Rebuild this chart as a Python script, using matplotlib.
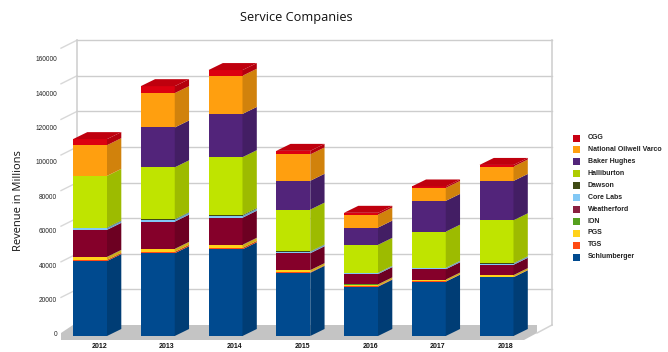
import matplotlib
matplotlib.use("Agg")
import matplotlib.pyplot as plt
from matplotlib.colors import to_rgb

# revenue in millions per company, stacked bottom to top
years = ["2012", "2013", "2014", "2015", "2016", "2017", "2018"]
schlumberger = [42100, 46500, 48700, 35500, 27700, 30500, 33000]
tgs = [700, 800, 800, 300, 300, 200, 200]
pgs = [1500, 1500, 1600, 1100, 900, 900, 900]
ion = [150, 150, 150, 100, 100, 100, 100]
weatherford = [15200, 15300, 15200, 9500, 5800, 5800, 5800]
core_labs = [1000, 1100, 1100, 800, 600, 700, 700]
dawson = [300, 300, 400, 200, 100, 100, 200]
halliburton = [29000, 29100, 32500, 23500, 15700, 20300, 24100]
baker_hughes = [0, 22400, 24300, 16200, 9700, 17300, 22100]
nov = [17250, 19300, 21450, 14800, 7300, 7300, 8100]
cgg = [3400, 3900, 3200, 2000, 1000, 800, 900]

companies = ["Schlumberger", "TGS", "PGS", "ION", "Weatherford", "Core Labs",
             "Dawson", "Halliburton", "Baker Hughes", "National Oilwell Varco", "CGG"]
series = [schlumberger, tgs, pgs, ion, weatherford, core_labs,
          dawson, halliburton, baker_hughes, nov, cgg]
colors = ["#004a8f", "#ff4a12", "#ffd21a", "#55a01e", "#85002a", "#82c8f5",
          "#3f4a14", "#bfe400", "#52247a", "#ff9f0f", "#dc0010"]
legend_colors = ["#004a8f", "#ff4a12", "#ffd21a", "#55a01e", "#8a2040", "#82c8f5",
                 "#3f4a14", "#aecb00", "#52247a", "#ff9f0f", "#c90012"]

axis_ticks = list(range(0, 180000, 20000))

W, H = 668, 352
PX_X = 67.75            # pixels between categories
PX_Y = 35.6 / 20000     # pixels per unit of revenue
X0, Y0 = 90, 336        # pixel position of first category at zero


def darker(c, f):
    return tuple(v * f for v in to_rgb(c))


fig = plt.figure(figsize=(W / 100, H / 100), dpi=100)
ax = fig.add_axes([0, 0, 1, 1])
ax.set_xlim(-X0 / PX_X, (W - X0) / PX_X)
ax.set_ylim((Y0 - H) / PX_Y, Y0 / PX_Y)
ax.axis("off")

# pixel sizes turned into data units
dx = 14.3 / PX_X
dy = 7 / PX_Y
half = 17 / PX_X


def px(x, y):
    return (x - X0) / PX_X, (Y0 - y) / PX_Y


# floor
floor = [px(61, 333), px(73, 325), px(537, 325), px(537, 333), px(524, 340), px(61, 340)]
ax.fill(*zip(*floor), color="#c4c4c4", lw=0, zorder=1)
ax.plot(*zip(px(537, 333), px(552, 325)), color="#d4d4d4", lw=1.1, zorder=1)

# walls and gridlines
grid_c = "#cdcdcd"
for t in axis_ticks[1:]:
    gy = 325 - t * PX_Y
    bx, by = px(77, gy)
    ex, _ = px(552, gy)
    ax.plot([bx, ex], [by, by], color=grid_c, lw=1.0, zorder=1)
    fx, fy = px(61, gy + 8)
    ax.plot([fx, bx], [fy, by], color="#d8d8d8", lw=1.0, zorder=1)
for wall_x in (77, 552):
    ax.plot(*zip(px(wall_x, 40), px(wall_x, 325)), color=grid_c, lw=1.1, zorder=1)

# stacked bars with a side face and a lid
for i, year in enumerate(years):
    bottom = 0
    for name, vals, c in zip(companies, series, colors):
        v = vals[i]
        if v <= 0:
            continue
        ax.bar(i, v, width=2 * half, bottom=bottom, color=c, lw=0, zorder=3)
        xr = i + half
        ax.fill([xr, xr + dx, xr + dx, xr],
                [bottom, bottom + dy, bottom + v + dy, bottom + v],
                color=darker(c, 0.82), lw=0, zorder=3)
        bottom += v
    ax.fill([i - half, i + half, i + half + dx, i - half + dx],
            [bottom, bottom, bottom + dy, bottom + dy],
            color=darker(colors[-1], 0.87), lw=0, zorder=4)
    _, ly = px(0, 346)
    ax.text(i + dx / 2 + 2 / PX_X, ly, year, ha="center", va="center", fontsize=5,
            fontweight="bold", color="#111111", family="Liberation Sans")

# value labels run on a slightly tighter step than the wall
for k, t in enumerate(axis_ticks[:9]):
    lx, ly = px(57, 335 - 34.4 * k)
    ax.text(lx, ly, str(t), ha="right", va="center", fontsize=4.7,
            color="#222222", family="Liberation Sans")

tx, ty = px(296, 17.5)
ax.text(tx, ty, "Service Companies", ha="center", va="center", fontsize=9.2,
        color="#111111", family="Open Sans")
tx, ty = px(19, 201)
ax.text(tx, ty, "Revenue in Millions", ha="center", va="center", rotation=90,
        fontsize=8, color="#111111", family="Open Sans")

# legend, top entry is the last series
for k, (name, c) in enumerate(zip(companies[::-1], legend_colors[::-1])):
    yy = 138 + k * 11.93
    sx0, sy0 = px(573, yy - 3.5)
    sx1, sy1 = px(580, yy + 3.5)
    ax.fill([sx0, sx1, sx1, sx0], [sy0, sy0, sy1, sy1], color=c, lw=0, zorder=3)
    nx, ny = px(588, yy - 0.5)
    ax.text(nx, ny, name, ha="left", va="center", fontsize=5,
            fontweight="bold", color="#222222", family="Liberation Sans")

fig.savefig("out.png", dpi=100)
